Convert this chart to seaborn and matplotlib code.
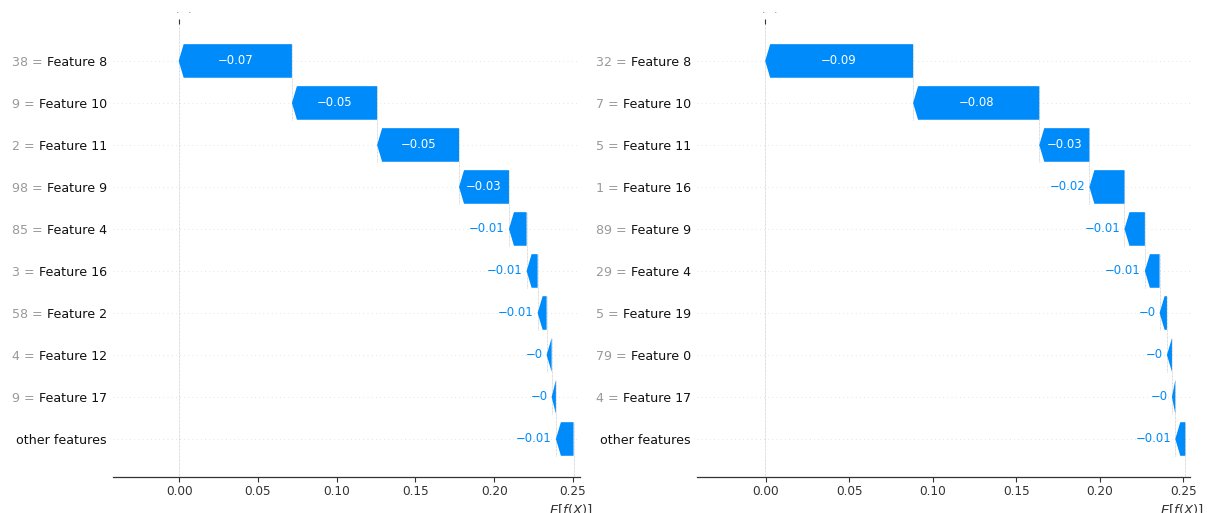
import numpy as np
import matplotlib
matplotlib.use("Agg")
import matplotlib.pyplot as plt
import matplotlib.transforms as mtransforms
import seaborn as sns

# ---- data: two waterfall explanations (values in model output units) ----
left_features = ["Feature 8", "Feature 10", "Feature 11", "Feature 9", "Feature 4",
                 "Feature 16", "Feature 2", "Feature 12", "Feature 17"]
left_feature_values = ["38", "9", "2", "98", "85", "3", "58", "4", "9"]
left_shap = [-0.0719, -0.0541, -0.0520, -0.0317, -0.0112,
             -0.0070, -0.0057, -0.0032, -0.0027]
left_other = -0.0112
left_base = 0.2504

right_features = ["Feature 8", "Feature 10", "Feature 11", "Feature 16", "Feature 9",
                  "Feature 4", "Feature 19", "Feature 0", "Feature 17"]
right_feature_values = ["32", "7", "5", "1", "89", "29", "5", "79", "4"]
right_shap = [-0.0885, -0.0755, -0.0300, -0.0210, -0.0122,
              -0.0088, -0.0044, -0.0030, -0.0020]
right_other = -0.0060
right_base = 0.2512

x_ticks = [0.00, 0.05, 0.10, 0.15, 0.20, 0.25]

BLUE = "#008bfb"
AXIS_COLOR = "#333333"
GRAY = "#999999"

sns.set_theme(style="white")
plt.rcParams["font.family"] = ["DejaVu Sans"]
plt.rcParams["mathtext.fontset"] = "dejavusans"

fig = plt.figure(figsize=(12.08, 5.13), dpi=100)
W, H = 1208, 513

# region of the canvas where panel content is visible
content_clip = mtransforms.TransformedBbox(
    mtransforms.Bbox([[0, 0], [1, 1 - 12 / H]]), fig.transFigure)


def fmt(v):
    s = "%+0.02f" % v
    if "." in s:
        s = s.rstrip("0").rstrip(".")
    if s.startswith("+"):
        s = s[1:]
    return s.replace("-", "\u2212")


def waterfall(ax, features, feat_vals, shap_vals, other, base, xlim, ylim):
    contributions = list(shap_vals) + [other]
    n = len(contributions)
    ys = np.arange(n)[::-1].astype(float)

    # bar start positions, accumulated from the bottom row upwards
    lefts = np.empty(n)
    cur = base
    for i in range(n - 1, -1, -1):
        lefts[i] = cur
        cur += contributions[i]
    fx = cur

    ax.set_xlim(*xlim)
    ax.set_ylim(*ylim)

    # row guides
    for y in ys:
        ax.axhline(y, color="#cccccc", lw=0.5, dashes=(1, 5), zorder=-1)

    # connectors between consecutive bars
    for i in range(n - 1):
        ax.plot([lefts[i], lefts[i]], [ys[i + 1] - 0.4, ys[i] + 0.4],
                color="#bbbbbb", lw=0.5, dashes=(1, 1), zorder=-1)
    ax.plot([base, base], [ylim[0], ys[-1] + 0.4], color="#bbbbbb",
            lw=0.5, dashes=(1, 1), zorder=-1)
    ax.axvline(fx, color="#bbbbbb", lw=0.5, dashes=(1, 1), zorder=-1)

    # y labels: feature names in black
    ax.set_yticks(ys)
    ax.set_yticklabels(list(features) + ["other features"], fontsize=9.1,
                       color="#111111")
    ax.tick_params(axis="y", length=0, pad=4.5)

    ax.set_xticks(x_ticks)
    ax.set_xticklabels([f"{t:.2f}" for t in x_ticks], fontsize=8.7)
    ax.tick_params(axis="x", direction="out", length=3.5, width=0.8, pad=2.5,
                   color=AXIS_COLOR, labelcolor=AXIS_COLOR, bottom=True)
    sns.despine(ax=ax, left=True, top=True, right=True)
    ax.spines["bottom"].set_color(AXIS_COLOR)
    ax.spines["bottom"].set_linewidth(0.9)
    ax.grid(False)

    fig.canvas.draw()
    renderer = fig.canvas.get_renderer()
    bbox = ax.get_window_extent()
    px_per_unit = bbox.width / (xlim[1] - xlim[0])
    hl = 5.0 / px_per_unit

    for i in range(n):
        d = contributions[i]
        ax.arrow(lefts[i], ys[i], d, 0, width=0.8, head_width=0.8,
                 head_length=min(-d, hl), length_includes_head=True,
                 color=BLUE, lw=0, zorder=2)
        txt = ax.text(lefts[i] + 0.5 * d, ys[i], fmt(d), ha="center",
                      va="center", color="white", fontsize=8.4, zorder=3)
        tw = txt.get_window_extent(renderer=renderer).width
        if tw > -d * px_per_unit - 4:
            txt.remove()
            ax.text(lefts[i] + d - 4.0 / px_per_unit, ys[i], fmt(d),
                    ha="right", va="center", color=BLUE, fontsize=8.4, zorder=3)

    # gray "value =" prefixes to the left of each feature name
    for lab, y, v in zip(ax.get_yticklabels()[:n - 1], ys[:-1], feat_vals):
        ext = lab.get_window_extent(renderer=renderer)
        gap = bbox.x0 - ext.x0 + 4.0
        ax.annotate(f"{v} =", xy=(0, y), xycoords=("axes fraction", "data"),
                    xytext=(-gap, 0), textcoords="offset pixels",
                    ha="right", va="center_baseline", fontsize=9.1, color=GRAY,
                    annotation_clip=False)

    # top tick marking f(x)
    ax_top = ax.twiny()
    ax_top.set_xlim(*xlim)
    ax_top.set_xticks([fx])
    ax_top.set_xticklabels([""])
    ax_top.tick_params(axis="x", direction="out", length=3.5, width=0.8,
                       color=AXIS_COLOR, top=True, bottom=False)
    for s in ax_top.spines.values():
        s.set_visible(False)
    ax_top.grid(False)

    t1 = ax.annotate("$f(x)$", xy=(fx, 1), xycoords=("data", "axes fraction"),
                     xytext=(-10, 10), textcoords="offset pixels",
                     ha="left", va="bottom", fontsize=10, color=AXIS_COLOR)
    t2 = ax.annotate("$ = 0$", xy=(fx, 1), xycoords=("data", "axes fraction"),
                     xytext=(14, 10), textcoords="offset pixels",
                     ha="left", va="bottom", fontsize=10, color=GRAY)
    for t in (t1, t2):
        t.set_clip_box(content_clip)
        t.set_clip_on(True)

    # expected-value label under the axis
    ax.annotate("$E[f(X)]$", xy=(base, 0), xycoords=("data", "axes fraction"),
                xytext=(-3, -25), textcoords="offset pixels",
                ha="center", va="top", fontsize=9.5, color=AXIS_COLOR,
                annotation_clip=False)


bottom = (H - 477) / H
height = (477 - 24) / H
ax_left = fig.add_axes([113 / W, bottom, 467 / W, height])
ax_right = fig.add_axes([697 / W, bottom, 493 / W, height])

ylim = (-0.905, 9.88)
waterfall(ax_left, left_features, left_feature_values, left_shap, left_other,
          left_base, (-0.042, 0.2545), ylim)
waterfall(ax_right, right_features, right_feature_values, right_shap, right_other,
          right_base, (-0.041, 0.254), ylim)

fig.savefig("out.png", dpi=100)
